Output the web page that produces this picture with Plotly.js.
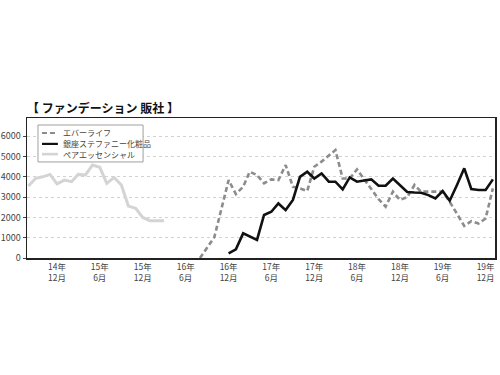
<!DOCTYPE html>
<html>
<head>
<meta charset="utf-8">
<script src="https://cdn.plot.ly/plotly-3.0.1.min.js"></script>
<style>html,body{margin:0;padding:0;background:#fff;}#chart{width:500px;height:375px;}</style>
</head>
<body>
<div id="chart"></div>
<script>
// series names
const seriesNames = ['エバーライフ', '銀座ステファニー化粧品', 'ペアエッセンシャル'];

// ペアエッセンシャル: 2014-08 .. 2016-03
const pairMonths = ['2014-08','2014-09','2014-10','2014-11','2014-12','2015-01','2015-02','2015-03','2015-04','2015-05','2015-06','2015-07','2015-08','2015-09','2015-10','2015-11','2015-12','2016-01','2016-02','2016-03'];
const pairValues = [3550,3930,4000,4120,3650,3840,3760,4120,4090,4580,4470,3680,3970,3600,2560,2450,2000,1840,1830,1830];

// エバーライフ: 2016-08 .. 2020-01
const everMonths = ['2016-08','2016-09','2016-10','2016-11','2016-12','2017-01','2017-02','2017-03','2017-04','2017-05','2017-06','2017-07','2017-08','2017-09','2017-10','2017-11','2017-12','2018-01','2018-02','2018-03','2018-04','2018-05','2018-06','2018-07','2018-08','2018-09','2018-10','2018-11','2018-12','2019-01','2019-02','2019-03','2019-04','2019-05','2019-06','2019-07','2019-08','2019-09','2019-10','2019-11','2019-12','2020-01'];
const everValues = [0,520,1020,2450,3840,3150,3510,4250,4090,3680,3875,3840,4580,3510,3430,3300,4500,4750,5050,5320,3920,3920,4370,3900,3400,2900,2530,3270,2860,3000,3600,3270,3270,3270,3270,2770,2150,1580,1820,1700,1950,3430];

// 銀座ステファニー化粧品: 2016-12 .. 2020-01
const ginzaMonths = ['2016-12','2017-01','2017-02','2017-03','2017-04','2017-05','2017-06','2017-07','2017-08','2017-09','2017-10','2017-11','2017-12','2018-01','2018-02','2018-03','2018-04','2018-05','2018-06','2018-07','2018-08','2018-09','2018-10','2018-11','2018-12','2019-01','2019-02','2019-03','2019-04','2019-05','2019-06','2019-07','2019-08','2019-09','2019-10','2019-11','2019-12','2020-01'];
const ginzaValues = [230,430,1215,1050,890,2120,2280,2690,2360,2860,4000,4250,3920,4170,3760,3760,3380,3970,3760,3820,3875,3560,3560,3920,3600,3250,3230,3220,3100,2940,3300,2820,3600,4420,3400,3350,3350,3875];

// x tick positions and labels
const tickMonths = ['2014-12-01','2015-06-01','2015-12-01','2016-06-01','2016-12-01','2017-06-01','2017-12-01','2018-06-01','2018-12-01','2019-06-01','2019-12-01'];
const tickLabels = ['14年<br>12月','15年<br>6月','15年<br>12月','16年<br>6月','16年<br>12月','17年<br>6月','17年<br>12月','18年<br>6月','18年<br>12月','19年<br>6月','19年<br>12月'];
const yTicks = [0,1000,2000,3000,4000,5000,6000];

const font = '"Noto Sans CJK JP", "Noto Sans", sans-serif';

const lineStyles = [
  {color: '#8c8c8c', width: 2.6, dash: '5px,3px'},
  {color: '#111111', width: 2.6},
  {color: '#d4d4d4', width: 3}
];

const traces = [
  {x: everMonths.map(m => m + '-01'), y: everValues, name: seriesNames[0], mode: 'lines', line: lineStyles[0]},
  {x: ginzaMonths.map(m => m + '-01'), y: ginzaValues, name: seriesNames[1], mode: 'lines', line: lineStyles[1]},
  {x: pairMonths.map(m => m + '-01'), y: pairValues, name: seriesNames[2], mode: 'lines', line: lineStyles[2]}
];

// compact legend (paper coordinates)
const legRows = [0.893, 0.815, 0.742];
const shapes = [{type: 'rect', xref: 'paper', yref: 'paper', x0: 0.0235, x1: 0.248, y0: 0.686, y1: 0.95,
  fillcolor: '#ffffff', line: {color: '#a0a0a0', width: 1}, layer: 'above'}];
const annotations = [{
  text: '<b>【 ファンデーション 販社 】</b>', xref: 'paper', yref: 'paper',
  x: -0.004, y: 1.0, yshift: 10.5, xanchor: 'left', yanchor: 'middle', showarrow: false,
  font: {family: font, size: 12, color: '#111'}
}];
seriesNames.forEach((nm, k) => {
  shapes.push({type: 'line', xref: 'paper', yref: 'paper', x0: 0.032, x1: 0.066, y0: legRows[k], y1: legRows[k],
    line: Object.assign({}, lineStyles[k], {width: k === 2 ? 2.6 : 2.2}), layer: 'above'});
  annotations.push({text: nm, xref: 'paper', yref: 'paper', x: 0.073, y: legRows[k], xanchor: 'left', yanchor: 'middle',
    showarrow: false, font: {family: font, size: 8, color: '#444'}});
});

const layout = {
  width: 500, height: 375,
  margin: {l: 27, r: 5, t: 118, b: 117},
  paper_bgcolor: '#ffffff', plot_bgcolor: '#ffffff',
  font: {family: font, color: '#333'},
  showlegend: false,
  shapes: shapes,
  annotations: annotations,
  xaxis: {
    type: 'date', range: ['2014-07-26', '2020-01-10'],
    tickmode: 'array', tickvals: tickMonths, ticktext: tickLabels,
    showgrid: false, zeroline: false,
    showline: true, linecolor: '#222', linewidth: 1.5, mirror: true,
    ticks: '', tickfont: {family: font, size: 8.5, color: '#444'}
  },
  yaxis: {
    range: [0, 6900], tickmode: 'array', tickvals: yTicks,
    showgrid: true, gridcolor: '#d2d2d2', griddash: 'dot', gridwidth: 1,
    zeroline: false, showline: true, linecolor: '#222', linewidth: 1.5, mirror: true,
    ticks: 'outside', ticklen: 3, tickcolor: '#444',
    tickfont: {family: font, size: 9, color: '#444'}
  }
};

Plotly.newPlot('chart', traces, layout, {staticPlot: true, displayModeBar: false});
</script>
</body>
</html>
